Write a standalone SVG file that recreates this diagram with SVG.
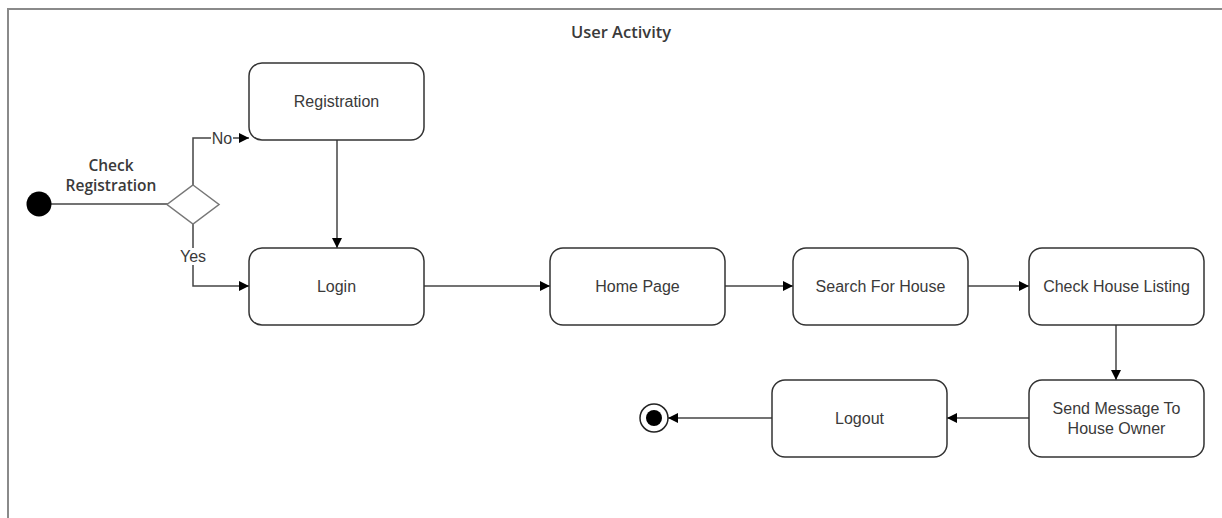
<svg xmlns="http://www.w3.org/2000/svg" width="1222" height="518" viewBox="0 0 1222 518">
  <defs>
    <marker id="arrow" viewBox="0 0 10 10" refX="10" refY="5" markerWidth="10" markerHeight="10" markerUnits="userSpaceOnUse" orient="auto">
      <path d="M0,0 L10,5 L0,10 Z" fill="#000"/>
    </marker>
    <style>
      .frame { fill: none; stroke: #8a8a8a; stroke-width: 2; }
      .act { fill: #fff; stroke: #333; stroke-width: 1.5; }
      .lbl { font-family: "Liberation Sans", Arial, sans-serif; font-size: 16px; fill: #3a3a3a; text-anchor: middle; dominant-baseline: central; }
      .bold { font-family: "Open Sans", "Liberation Sans", sans-serif; font-weight: 600; font-size: 15.5px; fill: #3a3a3a; text-anchor: middle; dominant-baseline: central; }
      .edge { fill: none; stroke: #444; stroke-width: 1.5; }
      .elbl { font-family: "Liberation Sans", Arial, sans-serif; font-size: 16px; fill: #3a3a3a; text-anchor: middle; dominant-baseline: central; }
    </style>
  </defs>
  <rect width="1222" height="518" fill="#fff"/>

  <!-- swimlane frame -->
  <path class="frame" d="M8,530 L8,9 L1230,9"/>
  <text class="bold" x="621" y="31" style="font-size:16.5px">User Activity</text>

  <!-- connectors -->
  <g id="connectors">
    <path class="edge" d="M51,204 L168,204"/>
    <path class="edge" d="M193,185 L193,138 L249,138" marker-end="url(#arrow)"/>
    <path class="edge" d="M193,224 L193,286 L249,286" marker-end="url(#arrow)"/>
    <path class="edge" d="M337,140 L337,248" marker-end="url(#arrow)"/>
    <path class="edge" d="M424,286 L550,286" marker-end="url(#arrow)"/>
    <path class="edge" d="M725,286 L793,286" marker-end="url(#arrow)"/>
    <path class="edge" d="M968,286 L1029,286" marker-end="url(#arrow)"/>
    <path class="edge" d="M1116,325 L1116,380" marker-end="url(#arrow)"/>
    <path class="edge" d="M1029,418 L947,418" marker-end="url(#arrow)"/>
    <path class="edge" d="M772,418 L668,418" marker-end="url(#arrow)"/>
    <rect x="211" y="129" width="22" height="17" fill="#fff"/>
    <text class="elbl" x="222" y="138">No</text>
    <rect x="179" y="248" width="28" height="17" fill="#fff"/>
    <text class="elbl" x="193" y="256">Yes</text>
  </g>

  <g id="start">
    <circle cx="39" cy="204" r="12.5" fill="#000"/>
  </g>

  <g id="decision">
    <path d="M193,185 L219,204.5 L193,224 L167,204.5 Z" fill="#fff" stroke="#777" stroke-width="1.5"/>
    <text class="bold" x="111" y="165">Check</text>
    <text class="bold" x="111" y="185">Registration</text>
  </g>

  <g id="registration">
    <rect class="act" x="249" y="63" width="175" height="77" rx="13"/>
    <text class="lbl" x="336.5" y="101">Registration</text>
  </g>

  <g id="login">
    <rect class="act" x="249" y="248" width="175" height="77" rx="13"/>
    <text class="lbl" x="336.5" y="286">Login</text>
  </g>

  <g id="home-page">
    <rect class="act" x="550" y="248" width="175" height="77" rx="13"/>
    <text class="lbl" x="637.5" y="286">Home Page</text>
  </g>

  <g id="search-house">
    <rect class="act" x="793" y="248" width="175" height="77" rx="13"/>
    <text class="lbl" x="880.5" y="286">Search For House</text>
  </g>

  <g id="check-listing">
    <rect class="act" x="1029" y="248" width="175" height="77" rx="13"/>
    <text class="lbl" x="1116.5" y="286">Check House Listing</text>
  </g>

  <g id="send-message">
    <rect class="act" x="1029" y="380" width="175" height="77" rx="13"/>
    <text class="lbl" x="1116.5" y="408">Send Message To</text>
    <text class="lbl" x="1116.5" y="428">House Owner</text>
  </g>

  <g id="logout">
    <rect class="act" x="772" y="380" width="175" height="77" rx="13"/>
    <text class="lbl" x="859.5" y="418">Logout</text>
  </g>

  <g id="end">
    <circle cx="654" cy="418" r="14" fill="#fff" stroke="#222" stroke-width="1.5"/>
    <circle cx="654" cy="418" r="8" fill="#000"/>
  </g>
</svg>
